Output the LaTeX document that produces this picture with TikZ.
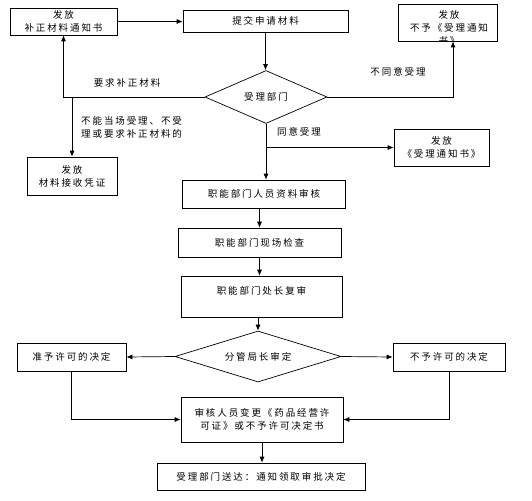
\documentclass[tikz,border=0pt]{standalone}
\usepackage{fontspec}
\newfontfamily\cjk[LetterSpace=20]{Noto Sans CJK SC}
\usetikzlibrary{shapes.geometric,arrows.meta}
\begin{document}
\begin{tikzpicture}[x=1pt,y=-1pt,
  every node/.style={font=\cjk\fontsize{9.5}{13}\selectfont, inner sep=0pt},
  box/.style={draw, line width=0.7pt, align=center},
  dia/.style={draw, line width=0.7pt, shape=diamond, aspect=2.8},
  lbl/.style={align=left},
  conn/.style={line width=0.7pt},
  arr/.style={conn, -{Latex[length=6pt,width=5pt]}}]
\useasboundingbox[fill=white] (0,0) rectangle (532,500);
% nodes
\node[box, minimum width=107pt, minimum height=27pt] (A) at (63.5,21.5) {发放\\补正材料通知书};
\node[box, minimum width=165pt, minimum height=22pt] (B) at (265.5,21) {提交申请材料};
\node[box, minimum width=99pt, minimum height=37pt] (C) at (447.5,22.5) {};
\begin{scope}
  \clip (C.south west) rectangle (C.north east);
  \node[align=center] (Ct) at (449,27.5) {发放\\不予《受理通知\\书》};
\end{scope}
\node[dia, minimum width=122pt, minimum height=53pt] (D) at (266,97) {受理部门};
\node[box, minimum width=90pt, minimum height=38pt] (E) at (72,176) {发放\\材料接收凭证};
\node[box, minimum width=95pt, minimum height=37pt] (G) at (441.5,147.5) {发放\\《受理通知书》};
\node[box, minimum width=163pt, minimum height=28pt] (F) at (264,194) {职能部门人员资料审核};
\node[box, minimum width=163pt, minimum height=29pt] (H) at (259.5,242.5) {职能部门现场检查};
\node[box, minimum width=161pt, minimum height=41pt] (I) at (261.5,296.5) {职能部门处长复审\\\mbox{}};
\node[dia, minimum width=166pt, minimum height=51pt] (J) at (258,356.5) {分管局长审定};
\node[box, minimum width=109pt, minimum height=28pt] (K) at (71.5,357) {准予许可的决定};
\node[box, minimum width=112pt, minimum height=28pt] (L) at (449,357) {不予许可的决定};
\node[box, minimum width=162pt, minimum height=45pt] (M) at (262,419.5) {审核人员变更《药品经营许\\可证》或不予许可决定书};
\node[box, minimum width=208pt, minimum height=27pt] (N) at (261,476.5) {受理部门送达：通知领取审批决定};
% labels
\node (l1) at (127,83) {要求补正材料};
\node[lbl, anchor=west] (l2) at (81,127.5) {不能当场受理、不受\\理或要求补正材料的};
\node (l3) at (398,72) {不同意受理};
\node (l4) at (299,132) {同意受理};
% connectors
\draw[arr] (A.east) -- (A.east -| B.west);
\draw[arr] (B.south) -- (B.south |- D.north);
\draw[arr] (D.west) -| (A.south);
\coordinate (e1) at (E.north |- D.west);
\draw[arr] (e1) -- (E.north);
\draw[arr] (D.east) -| ([xshift=5.5pt]C.south);
\draw[arr] (D.south) -- (D.south |- F.north);
\coordinate (g1) at (D.south |- G.west);
\draw[arr] (g1) -- (G.west);
\draw[arr] (H.north |- F.south) -- (H.north);
\draw[arr] (H.south) -- (H.south |- I.north);
\draw[arr] (J.north |- I.south) -- (J.north);
\draw[arr] (J.west) -- (K.east);
\draw[arr] (J.east) -- (L.west);
\draw[arr] (K.south) |- (M.west);
\draw[arr] (L.south) |- (M.east);
\draw[arr] (M.south) -- (M.south |- N.north);
\end{tikzpicture}
\end{document}
